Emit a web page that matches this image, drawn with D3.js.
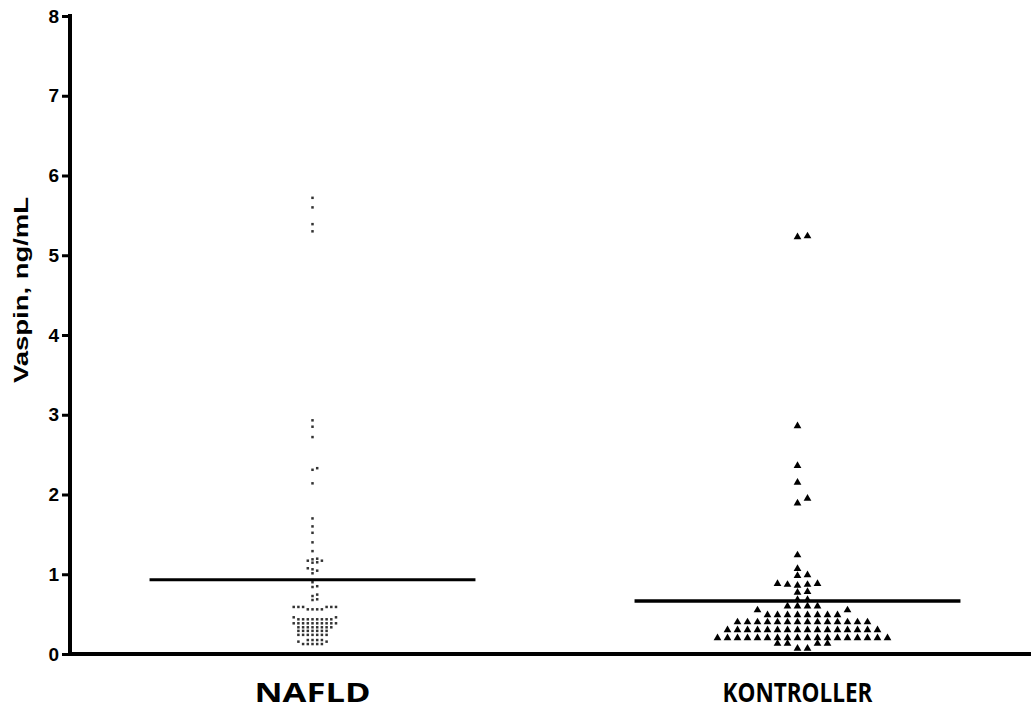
<!DOCTYPE html>
<html>
<head>
<meta charset="utf-8">
<script src="https://cdn.jsdelivr.net/npm/d3@7"></script>
<style>
  html, body { margin: 0; padding: 0; background: #fff; }
  svg { display: block; }
</style>
</head>
<body>
<div id="chart"></div>
<script>
// ---------------- data ----------------
const categories = ["NAFLD", "KONTROLLER"];

const nafldValues = [
  5.72, 5.60, 5.39, 5.30,
  2.93, 2.85, 2.72, 2.33, 2.31, 2.14,
  1.70, 1.60, 1.52, 1.40, 1.29,
  1.195, 1.187, 1.17, 1.17, 1.15, 1.145,
  1.075, 1.062, 1.045, 1.012,
  0.90, 0.85, 0.84, 0.745, 0.727, 0.686, 0.677,
  0.59, 0.59, 0.59, 0.59, 0.59, 0.59,
  0.56, 0.56, 0.56, 0.56,
  0.46, 0.46,
  0.435, 0.435, 0.435, 0.435, 0.435, 0.435, 0.435, 0.435,
  0.385, 0.385, 0.385, 0.385, 0.385, 0.385, 0.385, 0.385, 0.385, 0.385,
  0.335, 0.335, 0.335, 0.335, 0.335, 0.335, 0.335, 0.335,
  0.29, 0.29, 0.29, 0.29, 0.29, 0.29, 0.29,
  0.24, 0.24, 0.24, 0.24, 0.24, 0.24, 0.24,
  0.175, 0.175, 0.175, 0.175,
  0.155, 0.155,
  0.125, 0.125, 0.125, 0.125, 0.125
];

const kontrollerValues = [
  5.24, 5.23,
  2.86, 2.36, 2.15, 1.95, 1.89, 1.24, 1.07,
  0.99, 0.98,
  0.88, 0.88, 0.87, 0.87, 0.86,
  0.78, 0.77,
  0.68, 0.68,
  0.60, 0.60, 0.60, 0.60,
  0.55, 0.55,
  0.49, 0.49, 0.49, 0.49, 0.49, 0.49, 0.49, 0.49,
  0.40, 0.40, 0.40, 0.40, 0.40, 0.40, 0.40, 0.40, 0.40, 0.40, 0.40, 0.40, 0.40, 0.40,
  0.30, 0.30, 0.30, 0.30, 0.30, 0.30, 0.30, 0.30, 0.30, 0.30, 0.30, 0.30, 0.30, 0.30, 0.30, 0.30,
  0.20, 0.20, 0.20, 0.20, 0.20, 0.20, 0.20, 0.20, 0.20, 0.20, 0.20, 0.20, 0.20, 0.20, 0.20, 0.20, 0.20, 0.20,
  0.13, 0.13, 0.13, 0.13,
  0.07, 0.07
];

const groupMeans = [0.93, 0.665];
const yTickValues = [0, 1, 2, 3, 4, 5, 6, 7, 8];
const yTitle = "Vaspin, ng/mL";

// ---------------- layout ----------------
const W = 1031, H = 711;
const svg = d3.select("#chart").append("svg")
  .attr("width", W).attr("height", H)
  .style("background", "#fff");

const x = d3.scalePoint().domain(categories).range([70, 1040]).padding(0.5);
const y = d3.scaleLinear().domain([0, 8]).range([654, 16]);

// beeswarm-style column scatter
function swarm(values, center, spacing, dyThr) {
  const sorted = values.slice().sort((a, b) => a - b);
  const placed = [];
  sorted.forEach(v => {
    const py = y(v);
    for (let k = 0; k < 60; k++) {
      const step = k === 0 ? 0 : (k % 2 === 1 ? (k + 1) / 2 : -k / 2);
      const px = center + step * spacing;
      const hit = placed.some(p => Math.abs(p.y - py) < dyThr && Math.abs(p.x - px) < spacing * 0.9);
      if (!hit) { placed.push({ x: px, y: py, v }); break; }
    }
  });
  return placed;
}

const nafldPts = swarm(nafldValues, x("NAFLD"), 4.7, 3.2);
const kontPts = swarm(kontrollerValues, x("KONTROLLER"), 10, 5);

// points: NAFLD small squares
svg.append("g").selectAll("rect")
  .data(nafldPts).join("rect")
  .attr("x", d => d.x - 1.25).attr("y", d => d.y - 1.25)
  .attr("width", 2.5).attr("height", 2.5)
  .attr("fill", "#333");

// points: KONTROLLER triangles
svg.append("g").selectAll("path")
  .data(kontPts).join("path")
  .attr("transform", d => `translate(${d.x},${d.y})`)
  .attr("d", d3.symbol().type(d3.symbolTriangle).size(26))
  .attr("fill", "#000");

// mean lines
const stepW = x.step();
const halfW = stepW * 0.336;
svg.append("g").selectAll("line")
  .data(categories).join("line")
  .attr("x1", d => x(d) - halfW).attr("x2", d => x(d) + halfW)
  .attr("y1", (d, i) => y(groupMeans[i])).attr("y2", (d, i) => y(groupMeans[i]))
  .attr("stroke", "#000").attr("stroke-width", (d, i) => i === 0 ? 3 : 3.5);

// y axis
const yAxis = d3.axisLeft(y).tickValues(yTickValues).tickSize(8).tickSizeOuter(0).tickPadding(3);
const gy = svg.append("g").attr("transform", "translate(70,0)").call(yAxis);
gy.select(".domain").attr("stroke", "#000").attr("stroke-width", 4).attr("d", `M0,${y(8) - 2}V${y(0) + 2}`);
gy.selectAll(".tick line").attr("stroke", "#000").attr("stroke-width", 3);
gy.selectAll(".tick text")
  .attr("fill", "#000")
  .style("font-family", "'Liberation Sans', Arial, sans-serif")
  .style("font-weight", "bold")
  .style("font-size", "19px");

// x axis line
svg.append("line")
  .attr("x1", 68).attr("x2", W)
  .attr("y1", y(0)).attr("y2", y(0))
  .attr("stroke", "#000").attr("stroke-width", 4);

// category labels
svg.append("g").selectAll("text")
  .data(categories).join("text")
  .attr("x", d => x(d)).attr("y", 702)
  .attr("text-anchor", "middle")
  .attr("textLength", (d, i) => i === 0 ? 116 : 150)
  .attr("lengthAdjust", "spacingAndGlyphs")
  .style("font-family", "'Open Sans', sans-serif")
  .style("font-weight", "bold")
  .style("font-size", "26px")
  .attr("fill", "#000")
  .text(d => d);

// y title
svg.append("text")
  .attr("transform", `translate(28,${(197 + 383) / 2}) rotate(-90)`)
  .attr("text-anchor", "middle")
  .attr("textLength", 186)
  .attr("lengthAdjust", "spacingAndGlyphs")
  .style("font-family", "'Liberation Sans', Arial, sans-serif")
  .style("font-weight", "bold")
  .style("font-size", "20px")
  .attr("fill", "#000")
  .text(yTitle);
</script>
</body>
</html>
